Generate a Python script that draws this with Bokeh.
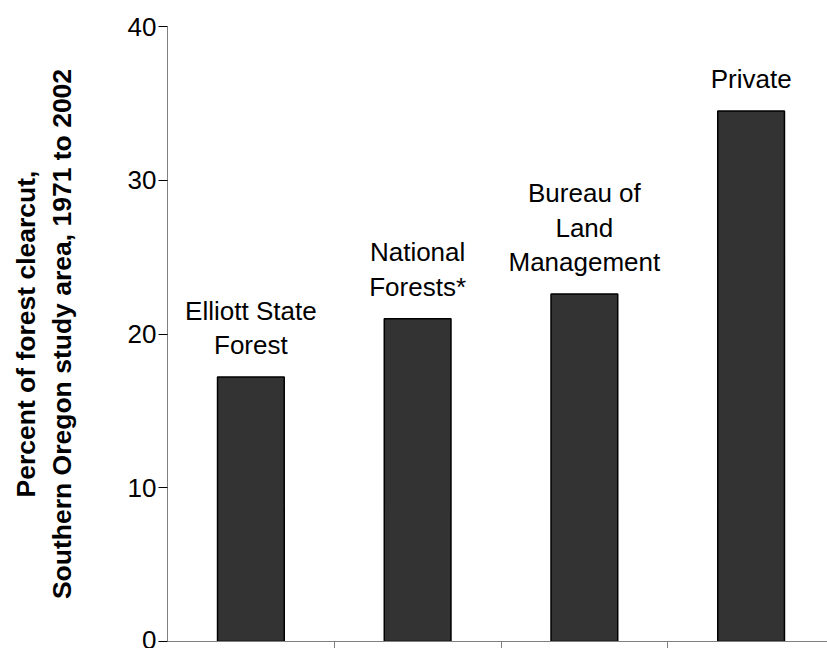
from bokeh.plotting import figure
from bokeh.models import ColumnDataSource, Range1d, FixedTicker, CustomJSTickFormatter
from bokeh.core.properties import value
from bokeh.embed import file_html
from bokeh.resources import INLINE

categories = ["Elliott State\nForest", "National\nForests*", "Bureau of\nLand\nManagement", "Private"]
percent_clearcut = [17.2, 21.0, 22.6, 34.5]
y_ticks = [0, 10, 20, 30, 40]

x_pos = [i + 0.5 for i in range(len(categories))]
src = ColumnDataSource(dict(x=x_pos, top=percent_clearcut, label=categories))

FONT = "Liberation Sans"

p = figure(width=827, height=648, output_backend="svg", toolbar_location=None,
           x_range=Range1d(0, 3.958), y_range=Range1d(0, 40),
           min_border_left=167, min_border_right=0, min_border_top=26, min_border_bottom=0)
p.outline_line_color = None
p.grid.visible = False
p.background_fill_color = "white"

p.vbar(x="x", top="top", bottom=0, width=0.4, source=src,
       fill_color="#333333", line_color="black", line_width=1.5)

p.text(x="x", y="top", text="label", source=src, text_align="center",
       text_baseline="bottom", y_offset=-17, text_font=value(FONT),
       text_font_size="26px", text_color="black", text_line_height=1.15)

# y axis
ya = p.yaxis[0]
ya.ticker = FixedTicker(ticks=y_ticks)
ya.axis_line_color = "#808080"
ya.major_tick_line_color = "black"
ya.major_tick_out = 9
ya.major_tick_in = 0
ya.minor_tick_line_color = None
ya.major_label_standoff = 2
ya.major_label_text_font = FONT
ya.major_label_text_font_size = "26px"
ya.major_label_text_color = "black"
ya.axis_label = "Percent of forest clearcut,\nSouthern Oregon study area, 1971 to 2002"
ya.axis_label_text_font = FONT
ya.axis_label_text_font_size = "26.5px"
ya.axis_label_text_font_style = "bold"
ya.axis_label_text_color = "black"
ya.axis_label_standoff = 48

# x axis
xa = p.xaxis[0]
xa.ticker = FixedTicker(ticks=list(range(1, len(categories))))
xa.formatter = CustomJSTickFormatter(code="return ''")
xa.axis_line_color = "#808080"
xa.major_tick_line_color = "#808080"
xa.major_tick_out = 7
xa.major_tick_in = 0
xa.minor_tick_line_color = None
xa.major_label_text_font_size = "1px"
xa.major_label_standoff = 0

open("out.html", "w").write(file_html(p, INLINE))
